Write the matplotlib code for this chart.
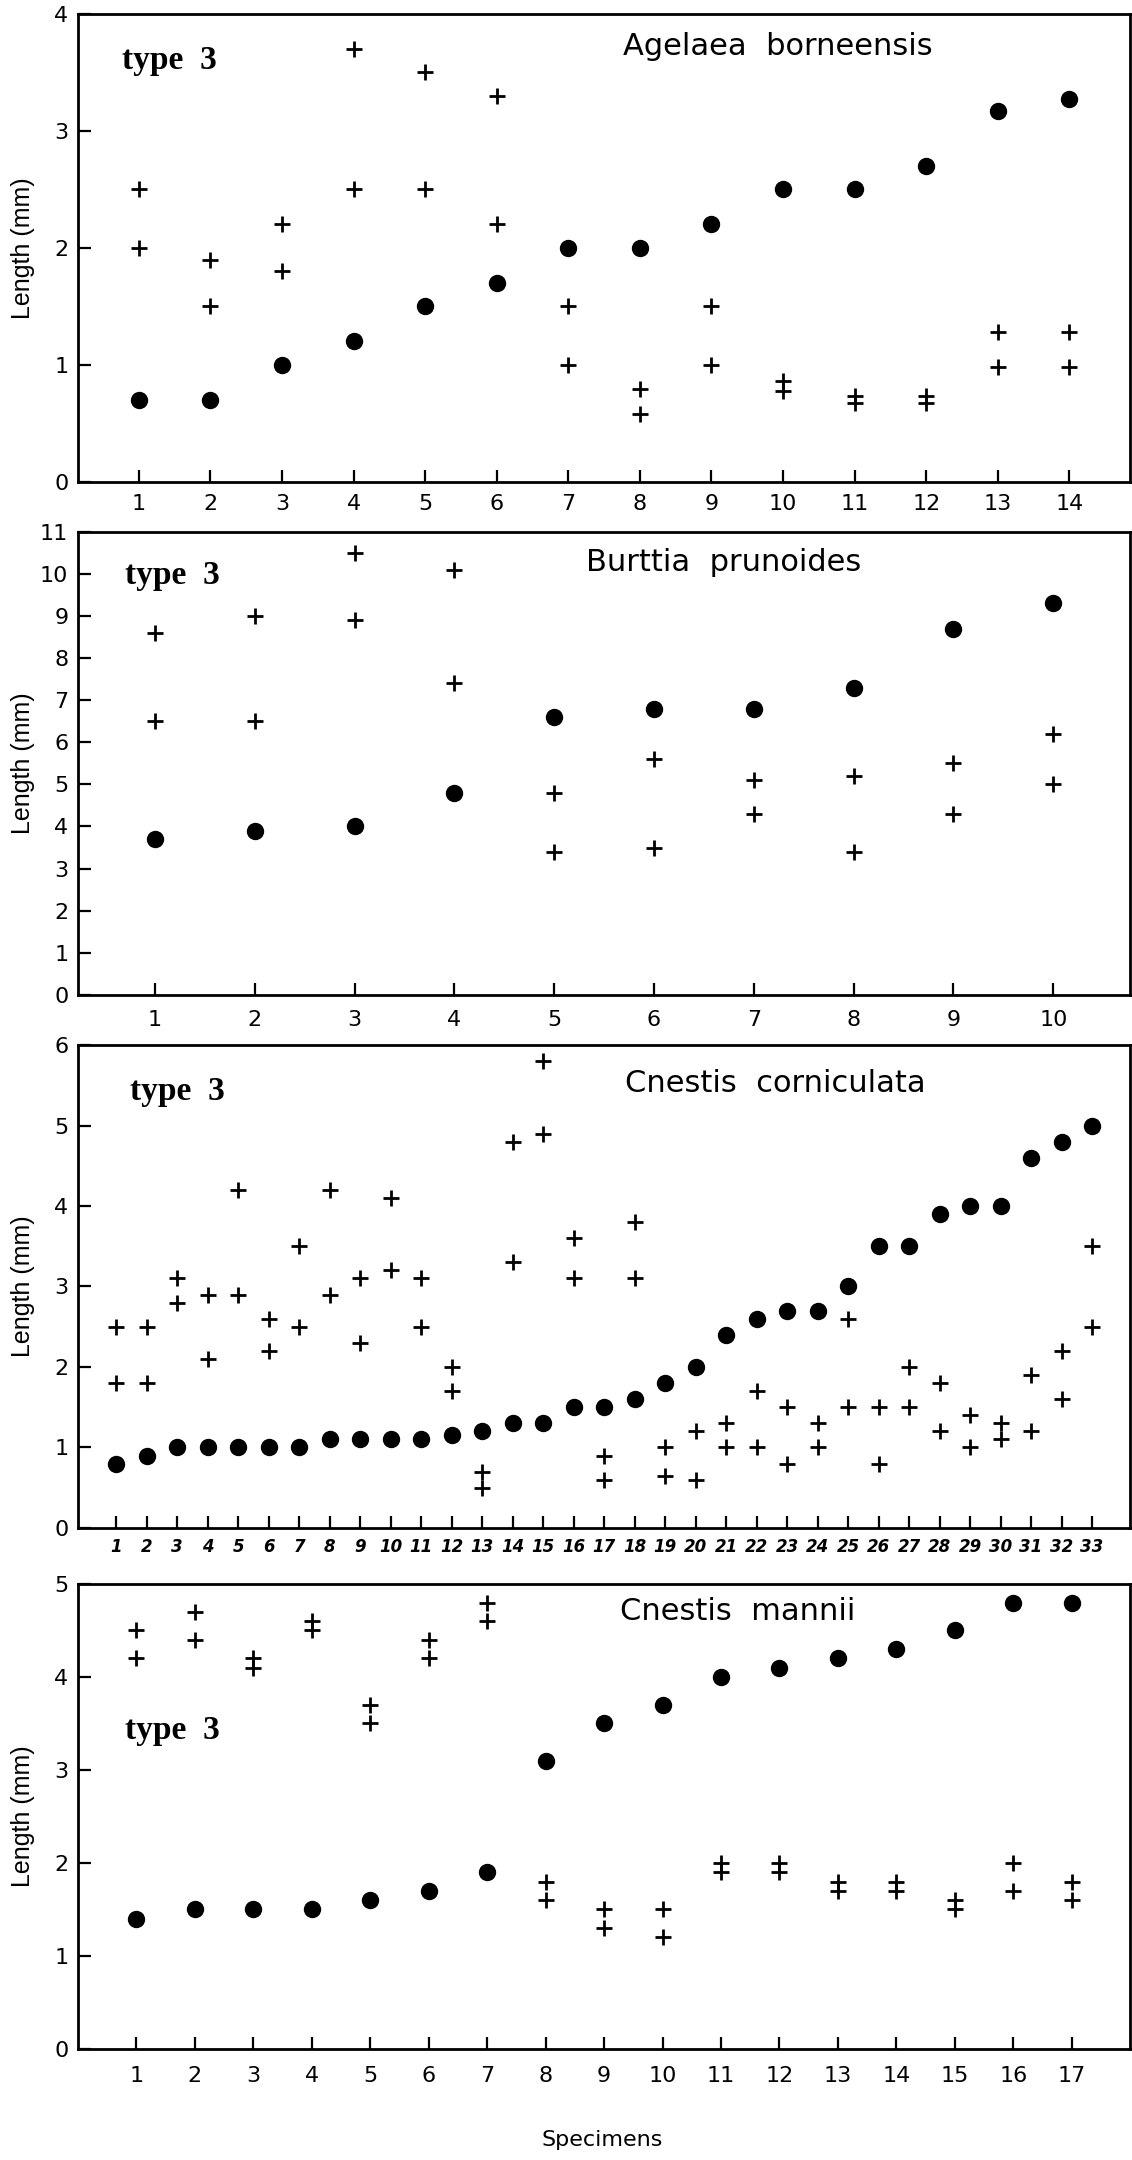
import matplotlib
matplotlib.use('Agg')
import matplotlib.pyplot as plt

plt.rcParams['font.family'] = ['DejaVu Sans']

# Agelaea borneensis, 14 specimens
agelaea_dots = [0.7, 0.7, 1.0, 1.2, 1.5, 1.7, 2.0, 2.0, 2.2, 2.5, 2.5, 2.7, 3.17, 3.27]
agelaea_hi = [2.5, 1.9, 2.2, 3.7, 3.5, 3.3, 1.5, 0.79, 1.5, 0.86, 0.73, 0.73, 1.28, 1.28]
agelaea_lo = [2.0, 1.5, 1.8, 2.5, 2.5, 2.2, 1.0, 0.58, 1.0, 0.78, 0.67, 0.67, 0.98, 0.98]

# Burttia prunoides, 10 specimens
burttia_dots = [3.7, 3.9, 4.0, 4.8, 6.6, 6.8, 6.8, 7.3, 8.7, 9.3]
burttia_hi = [8.6, 9.0, 10.5, 10.1, 4.8, 5.6, 5.1, 5.2, 5.5, 6.2]
burttia_lo = [6.5, 6.5, 8.9, 7.4, 3.4, 3.5, 4.3, 3.4, 4.3, 5.0]

# Cnestis corniculata, 33 specimens
corniculata_dots = [0.8, 0.9, 1.0, 1.0, 1.0, 1.0, 1.0, 1.1, 1.1, 1.1, 1.1, 1.15,
                    1.2, 1.3, 1.3, 1.5, 1.5, 1.6, 1.8, 2.0, 2.4, 2.6, 2.7, 2.7,
                    3.0, 3.5, 3.5, 3.9, 4.0, 4.0, 4.6, 4.8, 5.0]
corniculata_hi = [2.5, 2.5, 3.1, 2.9, 4.2, 2.6, 3.5, 4.2, 3.1, 4.1, 3.1, 2.0,
                  0.7, 4.8, 5.8, 3.6, 0.9, 3.8, 1.0, 1.2, 1.3, 1.7, 1.5, 1.3,
                  2.6, 1.5, 2.0, 1.8, 1.4, 1.3, 1.9, 2.2, 3.5]
corniculata_lo = [1.8, 1.8, 2.8, 2.1, 2.9, 2.2, 2.5, 2.9, 2.3, 3.2, 2.5, 1.7,
                  0.5, 3.3, 4.9, 3.1, 0.6, 3.1, 0.65, 0.6, 1.0, 1.0, 0.8, 1.0,
                  1.5, 0.8, 1.5, 1.2, 1.0, 1.1, 1.2, 1.6, 2.5]

# Cnestis mannii, 17 specimens
mannii_dots = [1.4, 1.5, 1.5, 1.5, 1.6, 1.7, 1.9, 3.1, 3.5, 3.7, 4.0, 4.1, 4.2,
               4.3, 4.5, 4.8, 4.8]
mannii_hi = [4.5, 4.7, 4.2, 4.6, 3.7, 4.4, 4.8, 1.8, 1.5, 1.5, 2.0, 2.0, 1.8,
             1.8, 1.6, 2.0, 1.8]
mannii_lo = [4.2, 4.4, 4.1, 4.5, 3.5, 4.2, 4.6, 1.6, 1.3, 1.2, 1.9, 1.9, 1.7,
             1.7, 1.5, 1.7, 1.6]

panels = [
    dict(name='Agelaea  borneensis', dots=agelaea_dots, hi=agelaea_hi, lo=agelaea_lo,
         rect=[0.0689, 0.7769, 0.9295, 0.2167], xlim=(0.15, 14.85), ymax=4,
         name_xy=(0.518, 0.93), type_xy=(0.042, 0.90), xpad=9, xsize=16, xstyle='normal'),
    dict(name='Burttia  prunoides', dots=burttia_dots, hi=burttia_hi, lo=burttia_lo,
         rect=[0.0689, 0.5394, 0.9295, 0.2144], xlim=(0.23, 10.77), ymax=11,
         name_xy=(0.483, 0.933), type_xy=(0.045, 0.905), xpad=11, xsize=16, xstyle='normal'),
    dict(name='Cnestis  corniculata', dots=corniculata_dots, hi=corniculata_hi, lo=corniculata_lo,
         rect=[0.0689, 0.2926, 0.9295, 0.2236], xlim=(-0.25, 34.25), ymax=6,
         name_xy=(0.52, 0.92), type_xy=(0.049, 0.903), xpad=7, xsize=12, xstyle='italic'),
    dict(name='Cnestis  mannii', dots=mannii_dots, hi=mannii_hi, lo=mannii_lo,
         rect=[0.0689, 0.0514, 0.9295, 0.2153], xlim=(0.0, 18.0), ymax=5,
         name_xy=(0.515, 0.94), type_xy=(0.045, 0.684), xpad=12, xsize=16, xstyle='normal'),
]

fig = plt.figure(figsize=(11.32, 21.6), dpi=100)

for p in panels:
    ax = fig.add_axes(p['rect'])
    n = len(p['dots'])
    xs = list(range(1, n + 1))
    ax.plot(xs, p['hi'], '+', color='black', ms=11, mew=2.0)
    ax.plot(xs, p['lo'], '+', color='black', ms=11, mew=2.0)
    ax.plot(xs, p['dots'], 'o', color='black', ms=11.5, mec='black')

    ax.set_xlim(*p['xlim'])
    ax.set_ylim(0, p['ymax'])
    ax.set_xticks(xs)
    ax.set_yticks(range(0, p['ymax'] + 1))
    ax.tick_params(axis='both', direction='in', length=9, width=1.6, color='black')
    ax.tick_params(axis='y', pad=7, labelsize=16)
    ax.tick_params(axis='x', pad=p['xpad'], labelsize=p['xsize'])
    if p['xstyle'] == 'italic':
        for lab in ax.get_xticklabels():
            lab.set_fontstyle('italic')
            lab.set_fontweight('bold')
    for s in ax.spines.values():
        s.set_linewidth(2.0)

    ax.set_ylabel('Length (mm)', fontsize=18, family=['Liberation Sans', 'DejaVu Sans'])
    ax.yaxis.set_label_coords(-0.041, 0.5)

    ax.text(p['name_xy'][0], p['name_xy'][1], p['name'], transform=ax.transAxes,
            fontsize=22, ha='left', va='center')
    ax.text(p['type_xy'][0], p['type_xy'][1], 'type  3', transform=ax.transAxes,
            fontsize=24, fontweight='bold', family=['Liberation Serif', 'DejaVu Serif'],
            ha='left', va='center')

fig.text(602 / 1132, 1 - 2140 / 2160, 'Specimens', fontsize=16, ha='center', va='center')

fig.savefig('out.png', dpi=100)
